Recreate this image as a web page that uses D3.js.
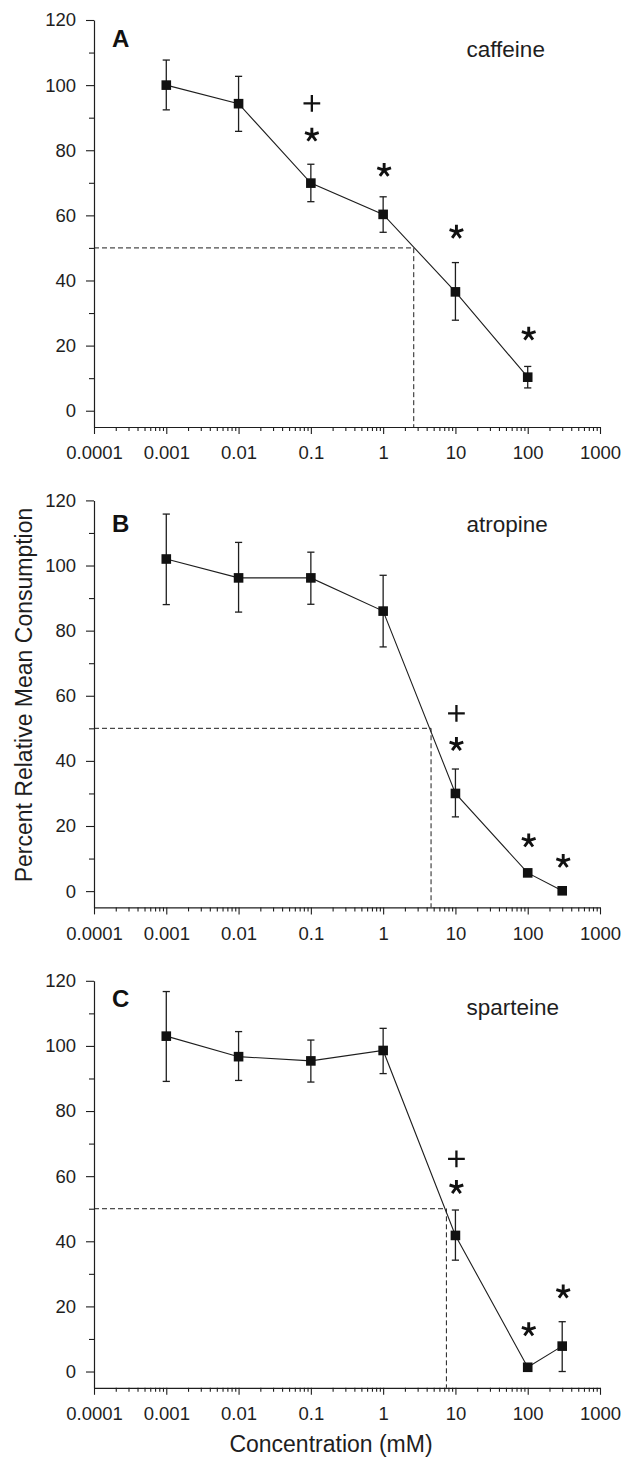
<!DOCTYPE html>
<html>
<head>
<meta charset="utf-8">
<script src="https://cdn.jsdelivr.net/npm/d3@7"></script>
<style>
    body { margin: 0; background: #fff; }
    svg { display: block; font-family: "Liberation Sans", Arial, Helvetica, sans-serif; }
</style>
</head>
<body>
<div id="chart"></div>
<script>
// ---- data ----
var letters = ["A", "B", "C"];
var drugs = ["caffeine", "atropine", "sparteine"];

// concentrations (mM)
var concA = [0.001, 0.01, 0.1, 1, 10, 100];
var concB = [0.001, 0.01, 0.1, 1, 10, 100, 300];
var concC = [0.001, 0.01, 0.1, 1, 10, 100, 300];

// percent relative mean consumption, with error bar ends
var meanA = [100, 94.3, 69.9, 60.3, 36.5, 10.3];
var lowA  = [92.4, 85.8, 64.2, 54.8, 27.8, 7.0];
var highA = [107.7, 102.7, 75.7, 65.7, 45.5, 13.6];

var meanB = [102.0, 96.2, 96.2, 86.0, 30.0, 5.6, 0.1];
var lowB  = [88.0, 85.7, 88.1, 75.0, 22.8, 4.6, 0];
var highB = [115.8, 107.1, 104.1, 97.0, 37.5, 6.6, 0.4];

var meanC = [103.0, 96.7, 95.4, 98.6, 41.8, 1.3, 7.8];
var lowC  = [89.1, 89.4, 88.9, 91.5, 34.2, 0.8, 0];
var highC = [116.7, 104.4, 101.8, 105.4, 49.6, 1.8, 15.3];

// concentration giving 50% consumption (dashed guides)
var ec50 = [2.65, 4.6, 7.5];

// significance marks: "*" and "+" (concentration, height in % units)
var starsA = [[0.1, 84.7], [1, 73.9], [10, 54.9], [100, 23.6]];
var plusA  = [[0.1, 94.4]];
var starsB = [[10, 45.1], [100, 15.5], [300, 9.2]];
var plusB  = [[10, 54.6]];
var starsC = [[10, 56.6], [100, 12.9], [300, 24.5]];
var plusC  = [[10, 65.3]];

// ticks
var xTicks = [0.0001, 0.001, 0.01, 0.1, 1, 10, 100, 1000];
var xTickLabels = ["0.0001", "0.001", "0.01", "0.1", "1", "10", "100", "1000"];
var yTicks = [0, 20, 40, 60, 80, 100, 120];
var yMinorTicks = [10, 30, 50, 70, 90, 110];

var panels = [
    {conc: concA, mean: meanA, low: lowA, high: highA, stars: starsA, plus: plusA},
    {conc: concB, mean: meanB, low: lowB, high: highB, stars: starsB, plus: plusB},
    {conc: concC, mean: meanC, low: lowC, high: highC, stars: starsC, plus: plusC}
];

// ---- layout ----
var W = 630, H = 1458;
var ink = "#1e1e1e";
var panelTop = 20, panelStep = 480.4, panelH = 407;
var nameDy = [37, 32, 34];
var letterDy = [27, 32, 26];

var svg = d3.select("#chart").append("svg")
    .attr("width", W)
    .attr("height", H);

var x = d3.scaleLog().domain([0.0001, 1000]).range([94, 600]);

// minor log ticks 2..9 inside each decade
var xMinor = [];
xTicks.slice(0, -1).forEach(function(d) {
    for (var k = 2; k <= 9; k++) xMinor.push(d * k);
});

// five-armed asterisk and plus as symbol types
var asterisk = {
    draw: function(ctx, size) {
        var r = Math.sqrt(size);
        for (var k = 0; k < 5; k++) {
            var a = -Math.PI / 2 + k * 2 * Math.PI / 5;
            ctx.moveTo(0, 0);
            ctx.lineTo(r * Math.cos(a), r * Math.sin(a));
        }
    }
};
var plusSign = {
    draw: function(ctx, size) {
        var r = Math.sqrt(size);
        ctx.moveTo(-r, 0); ctx.lineTo(r, 0);
        ctx.moveTo(0, -r); ctx.lineTo(0, r);
    }
};

function styleAxis(g, fontSize) {
    g.select(".domain").attr("stroke", ink).attr("stroke-width", 1.2);
    g.selectAll(".tick line").attr("stroke", ink).attr("stroke-width", 1.1);
    g.selectAll(".tick text").attr("fill", ink)
        .style("font-size", fontSize + "px")
        .style("font-family", "'Liberation Sans', Arial, sans-serif");
}

function drawPanel(p, i) {
    var top = panelTop + i * panelStep;
    var y = d3.scaleLinear().domain([-5, 120]).range([top + panelH, top]);
    var g = svg.append("g");

    // x axis, decades labelled, minor ticks without labels
    var xa = g.append("g")
        .attr("transform", "translate(0," + y(-5) + ")")
        .call(d3.axisBottom(x).tickValues(xTicks)
            .tickFormat(function(d, j) { return xTickLabels[j]; })
            .tickSize(7).tickPadding(12).tickSizeOuter(0));
    styleAxis(xa, 18.5);
    var xm = g.append("g")
        .attr("transform", "translate(0," + y(-5) + ")")
        .call(d3.axisBottom(x).tickValues(xMinor).tickFormat("")
            .tickSize(4).tickSizeOuter(0));
    styleAxis(xm, 18.5);
    xm.select(".domain").remove();

    // y axis
    var ya = g.append("g")
        .attr("transform", "translate(" + x(0.0001) + ",0)")
        .call(d3.axisLeft(y).tickValues(yTicks)
            .tickSize(8).tickPadding(10).tickSizeOuter(0));
    styleAxis(ya, 18.5);
    var ym = g.append("g")
        .attr("transform", "translate(" + x(0.0001) + ",0)")
        .call(d3.axisLeft(y).tickValues(yMinorTicks).tickFormat("")
            .tickSize(5).tickSizeOuter(0));
    styleAxis(ym, 18.5);
    ym.select(".domain").remove();

    // dashed 50% guide
    g.append("path")
        .attr("d", d3.line()([
            [x(0.0001), y(50)],
            [x(ec50[i]), y(50)],
            [x(ec50[i]), y(-5)]
        ]))
        .attr("fill", "none")
        .attr("stroke", ink)
        .attr("stroke-width", 1)
        .attr("stroke-dasharray", "5,3");

    var pts = p.conc.map(function(c, j) {
        return {c: c, m: p.mean[j], lo: p.low[j], hi: p.high[j]};
    });

    // connecting line
    g.append("path")
        .datum(pts)
        .attr("d", d3.line().x(function(d) { return x(d.c); }).y(function(d) { return y(d.m); }))
        .attr("fill", "none")
        .attr("stroke", ink)
        .attr("stroke-width", 1.1);

    // error bars
    var eb = g.append("g").attr("stroke", ink).attr("stroke-width", 1.3);
    eb.selectAll("line.v").data(pts).enter().append("line")
        .attr("x1", function(d) { return x(d.c); })
        .attr("x2", function(d) { return x(d.c); })
        .attr("y1", function(d) { return y(d.lo); })
        .attr("y2", function(d) { return y(d.hi); });
    ["lo", "hi"].forEach(function(k) {
        eb.selectAll("line." + k).data(pts).enter().append("line")
            .attr("x1", function(d) { return x(d.c) - 3.6; })
            .attr("x2", function(d) { return x(d.c) + 3.6; })
            .attr("y1", function(d) { return y(d[k]); })
            .attr("y2", function(d) { return y(d[k]); });
    });

    // square markers
    g.selectAll("rect.pt").data(pts).enter().append("rect")
        .attr("x", function(d) { return x(d.c) - 4.8; })
        .attr("y", function(d) { return y(d.m) - 4.8; })
        .attr("width", 9.6)
        .attr("height", 9.6)
        .attr("fill", "#111");

    // significance marks
    g.selectAll("path.star").data(p.stars).enter().append("path")
        .attr("transform", function(d) { return "translate(" + (x(d[0]) + 1) + "," + y(d[1]) + ")"; })
        .attr("d", d3.symbol().type(asterisk).size(52))
        .attr("fill", "none")
        .attr("stroke", "#111")
        .attr("stroke-width", 2.9);
    g.selectAll("path.plus").data(p.plus).enter().append("path")
        .attr("transform", function(d) { return "translate(" + (x(d[0]) + 1) + "," + y(d[1]) + ")"; })
        .attr("d", d3.symbol().type(plusSign).size(70))
        .attr("fill", "none")
        .attr("stroke", "#111")
        .attr("stroke-width", 2.3);

    // panel letter and drug name
    g.append("text")
        .attr("x", 112)
        .attr("y", top + letterDy[i])
        .attr("fill", "#111")
        .style("font-size", "24px")
        .style("font-weight", "bold")
        .text(letters[i]);
    g.append("text")
        .attr("x", 466.5)
        .attr("y", top + nameDy[i])
        .attr("fill", ink)
        .style("font-size", "22.5px")
        .text(drugs[i]);
}

panels.forEach(drawPanel);

// shared axis titles
svg.append("text")
    .attr("transform", "translate(31.5,695) rotate(-90)")
    .attr("text-anchor", "middle")
    .attr("fill", ink)
    .style("font-size", "23px")
    .text("Percent Relative Mean Consumption");

svg.append("text")
    .attr("x", 331)
    .attr("y", 1452)
    .attr("text-anchor", "middle")
    .attr("fill", ink)
    .style("font-size", "23px")
    .text("Concentration (mM)");
</script>
</body>
</html>
